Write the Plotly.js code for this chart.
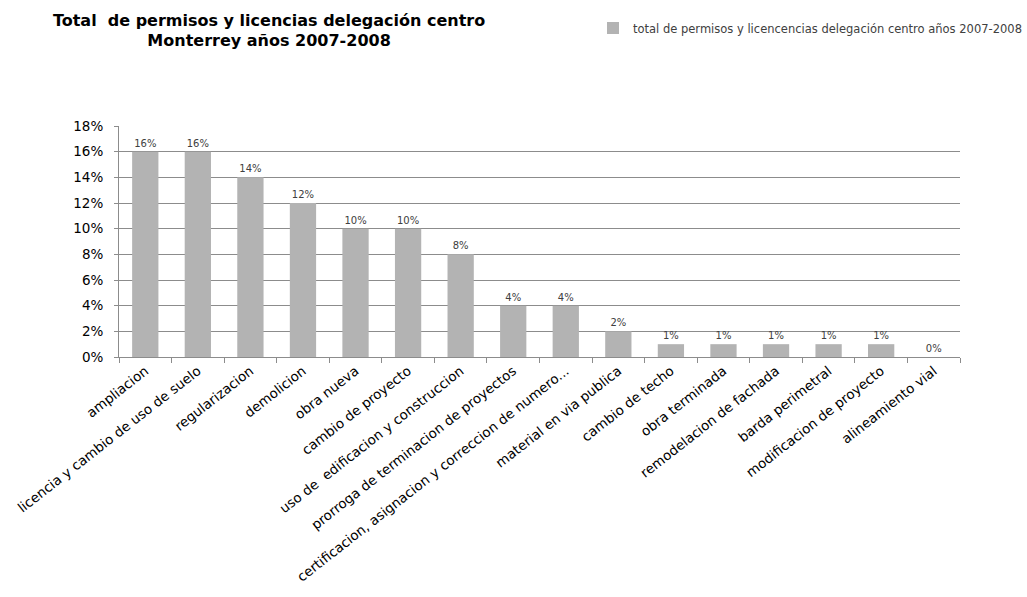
<!DOCTYPE html>
<html>
<head>
<meta charset="utf-8">
<script src="https://cdn.plot.ly/plotly-3.0.1.min.js"></script>
<style>html,body{margin:0;padding:0;background:#fff;}#chart{width:1027px;height:597px;}</style>
</head>
<body>
<div id="chart"></div>
<script>
const categories = [
  "ampliacion",
  "licencia y cambio de uso de suelo",
  "regularizacion",
  "demolicion",
  "obra nueva",
  "cambio de proyecto",
  "uso de  edificacion y construccion",
  "prorroga de terminacion de proyectos",
  "certificacion, asignacion y correccion de numero...",
  "material en via publica",
  "cambio de techo",
  "obra terminada",
  "remodelacion de fachada",
  "barda perimetral",
  "modificacion de proyecto",
  "alineamiento vial"
];
const values = [16, 16, 14, 12, 10, 10, 8, 4, 4, 2, 1, 1, 1, 1, 1, 0];
const seriesName = "total de permisos y licencencias delegación centro años 2007-2008";
const yTickVals = [0, 2, 4, 6, 8, 10, 12, 14, 16, 18];
const yTickText = ["0%", "2%", "4%", "6%", "8%", "10%", "12%", "14%", "16%", "18%"];

const trace = {
  type: "bar",
  x: categories,
  y: values,
  name: seriesName,
  marker: {color: "#b3b3b3"},
  width: 0.5,
  text: values.map(v => v + "%"),
  textposition: "outside",
  cliponaxis: false,
  textfont: {family: "DejaVu Sans", size: 10, color: "#404040"},
  hoverinfo: "x+y"
};

const layout = {
  width: 1027,
  height: 597,
  margin: {l: 119, r: 67, t: 126, b: 240},
  paper_bgcolor: "#ffffff",
  plot_bgcolor: "#ffffff",
  showlegend: true,
  title: {
    text: "Total  de permisos y licencias delegación centro<br>Monterrey años 2007-2008",
    font: {family: "DejaVu Sans", size: 16, color: "#000000", weight: "bold"},
    xref: "container", yref: "container",
    x: 0.262, xanchor: "center",
    y: 0.957, yanchor: "middle"
  },
  legend: {
    orientation: "h",
    xref: "container", yref: "container",
    x: 1, xanchor: "right",
    y: 0.953, yanchor: "middle",
    font: {family: "DejaVu Sans", size: 11.5, color: "#404040"},
    bgcolor: "rgba(0,0,0,0)",
    itemwidth: 30
  },
  xaxis: {
    type: "category",
    tickangle: -38,
    tickfont: {family: "DejaVu Sans", size: 13.5, color: "#000000"},
    showline: true, linecolor: "#8c8c8c", linewidth: 1,
    ticks: "outside", tickson: "boundaries", ticklen: 5, tickcolor: "#8c8c8c",
    showgrid: false,
    automargin: false
  },
  yaxis: {
    range: [0, 18],
    tickvals: yTickVals,
    ticktext: yTickText,
    tickfont: {family: "DejaVu Sans", size: 13.5, color: "#000000"},
    ticklabelstandoff: 8,
    showline: true, linecolor: "#8c8c8c", linewidth: 1,
    ticks: "outside", ticklen: 4, tickcolor: "#8c8c8c",
    showgrid: true, gridcolor: "#8c8c8c", gridwidth: 1,
    zeroline: false,
    automargin: false
  },
  bargap: 0.5
};

Plotly.newPlot("chart", [trace], layout, {displayModeBar: false, staticPlot: true});
</script>
</body>
</html>
